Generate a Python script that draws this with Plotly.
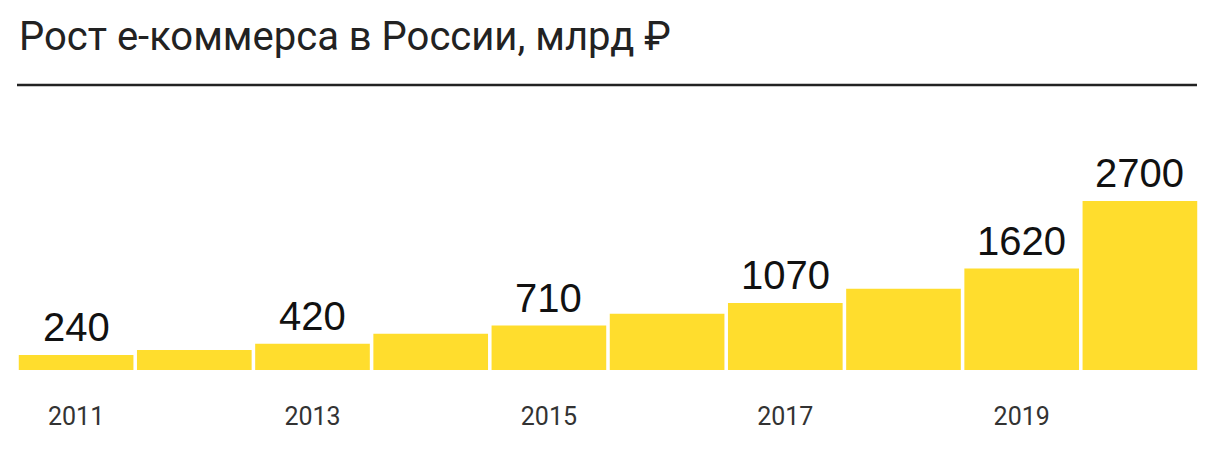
import plotly.graph_objects as go

years = [2011, 2012, 2013, 2014, 2015, 2016, 2017, 2018, 2019, 2020]
values = [240, 320, 420, 580, 710, 900, 1070, 1300, 1620, 2700]
labels = ["240", "", "420", "", "710", "", "1070", "", "1620", "2700"]
tick_years = [2011, 2013, 2015, 2017, 2019]
tick_text = ["2011", "2013", "2015", "2017", "2019"]
title_text = "Рост е-коммерса в России, млрд ₽"

YELLOW = "#FFDD2D"
DARK = "#222222"

fig = go.Figure()
fig.add_trace(go.Bar(
    x=years, y=values,
    marker=dict(color=YELLOW, line=dict(width=0)),
    hoverinfo="skip",
))

for yr, v, lab in zip(years, values, labels):
    if lab:
        fig.add_annotation(
            x=yr, y=v, text=lab, showarrow=False,
            xanchor="center", yanchor="bottom", yshift=4,
            font=dict(family="Liberation Sans", size=40, color="#111111"),
        )

fig.add_annotation(
    xref="paper", yref="paper", x=0, y=1,
    xanchor="left", yanchor="bottom", yshift=23,
    text=title_text, showarrow=False,
    font=dict(family="Roboto", size=40, color=DARK),
)

fig.add_shape(
    type="line", xref="paper", yref="paper",
    x0=0, x1=0.9983, y0=1, y1=1,
    line=dict(color=DARK, width=2.5),
)

fig.update_layout(
    width=1200, height=435,
    margin=dict(l=9, r=9, t=77, b=73),
    paper_bgcolor="white", plot_bgcolor="white",
    bargap=0.03,
    showlegend=False,
    xaxis=dict(
        tickmode="array", tickvals=tick_years, ticktext=tick_text,
        showgrid=False, zeroline=False, showline=False, ticks="",
        ticklabelstandoff=29,
        tickfont=dict(family="Roboto", size=25, color="#333333"),
        range=[2010.5, 2020.5],
    ),
    yaxis=dict(
        visible=False, range=[0, 2700 * 285 / 169],
    ),
)

fig.write_html("out.html")
